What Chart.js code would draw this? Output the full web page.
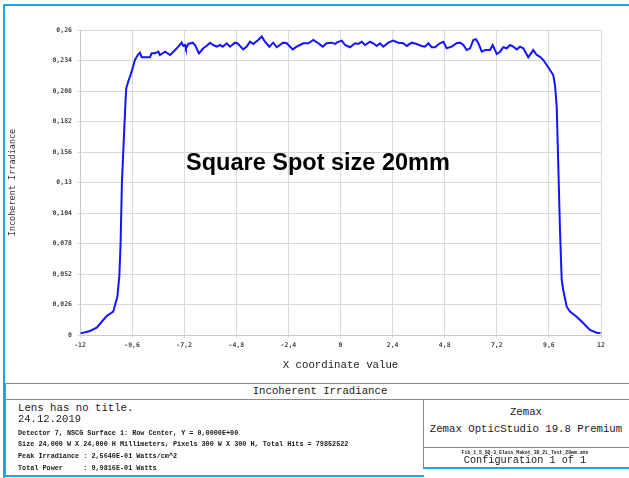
<!DOCTYPE html>
<html>
<head>
<meta charset="utf-8">
<script src="https://cdn.jsdelivr.net/npm/chart.js@4.4.1/dist/chart.umd.min.js"></script>
<style>
  html, body { margin: 0; padding: 0; background: #fff; }
  body { width: 629px; height: 478px; position: relative; overflow: hidden; }
  #myChart { position: absolute; left: 0; top: 0; }
  .ln { position: absolute; background: #8a8a8a; }
  .blue { position: absolute; background: #1ea4e4; }
  .t { position: absolute; font-family: "Liberation Mono", "DejaVu Sans Mono", monospace; color: #1a1a1a; white-space: pre; line-height: 1; }
  .c { transform: translate(-50%, -50%); }
  .l { transform: translateY(-50%); }
  #note { position: absolute; left: 318px; top: 162px; transform: translate(-50%, -50%);
          font: bold 23.5px "Liberation Sans", Arial, sans-serif; color: #000; white-space: nowrap; }
</style>
</head>
<body>
<canvas id="myChart" width="629" height="380"></canvas>
<div id="note">Square Spot size 20mm</div>

<!-- frame -->
<div class="blue" style="left:3px;top:4px;width:626px;height:2px"></div>
<div class="blue" style="left:3px;top:4px;width:2px;height:474px"></div>
<div class="blue" style="left:3px;top:475px;width:421px;height:2px"></div>
<div class="blue" style="left:423px;top:467px;width:206px;height:2px"></div>

<!-- info panel -->
<div class="ln" style="left:5px;top:383px;width:624px;height:1px"></div>
<div class="ln" style="left:5px;top:399px;width:624px;height:1px"></div>
<div class="ln" style="left:5px;top:383px;width:1px;height:93px"></div>
<div class="ln" style="left:423px;top:399px;width:1px;height:68px"></div>
<div class="ln" style="left:423px;top:447px;width:206px;height:1px"></div>

<div class="t c" style="left:320px;top:391px;font-size:10.7px">Incoherent Irradiance</div>
<div class="t l" style="left:18px;top:408px;font-size:10.7px">Lens has no title.</div>
<div class="t l" style="left:18px;top:419px;font-size:10.5px">24.12.2019</div>
<div class="t l" style="left:18px;top:433px;font-size:6.8px;font-weight:bold">Detector 7, NSCG Surface 1: Row Center, Y = 0,0000E+00</div>
<div class="t l" style="left:18px;top:444px;font-size:6.8px;font-weight:bold">Size 24,000 W X 24,000 H Millimeters, Pixels 300 W X 300 H, Total Hits = 79852522</div>
<div class="t l" style="left:18px;top:456px;font-size:6.8px;font-weight:bold">Peak Irradiance : 2,5640E-01 Watts/cm^2</div>
<div class="t l" style="left:18px;top:468px;font-size:6.8px;font-weight:bold">Total Power     : 9,9816E-01 Watts</div>
<div class="t c" style="left:526px;top:412px;font-size:10.7px">Zemax</div>
<div class="t c" style="left:526px;top:429px;font-size:10.7px">Zemax OpticStudio 19.8 Premium</div>
<div class="t c" style="left:525px;top:453px;font-size:4.8px;font-weight:bold">Fib_1_5_SQ-3_Glass_Maket_3D_2L_Test_20mm.zmx</div>
<div class="t c" style="left:525px;top:461px;font-size:10.2px">Configuration 1 of 1</div>

<script>
// detector row, X coordinate (mm)
const xPos = [-11.97, -11.54, -11.23, -11.00, -10.77, -10.47, -10.28, -10.19, -10.13, -10.07,
  -9.97, -9.90, -9.87, -9.78, -9.62, -9.47, -9.34, -9.24, -9.16, -8.78,
  -8.70, -8.55, -8.39, -8.32, -8.08, -7.85, -7.70, -7.62, -7.47, -7.32,
  -7.24, -7.16, -7.12, -7.01, -6.81, -6.70, -6.52, -6.32, -6.16, -6.01,
  -5.86, -5.70, -5.55, -5.43, -5.24, -5.09, -4.86, -4.75, -4.48, -4.32,
  -4.17, -4.02, -3.79, -3.63, -3.48, -3.28, -3.10, -2.94, -2.64, -2.48,
  -2.20, -2.02, -1.87, -1.71, -1.48, -1.25, -1.02, -0.82, -0.64, -0.41,
  -0.25, -0.18, 0.06, 0.21, 0.44, 0.67, 0.82, 0.98, 1.13, 1.36,
  1.51, 1.67, 1.82, 1.97, 2.20, 2.43, 2.66, 2.89, 3.05, 3.28,
  3.51, 3.74, 3.89, 4.05, 4.20, 4.35, 4.58, 4.74, 4.89, 5.12,
  5.35, 5.51, 5.66, 5.81, 5.97, 6.12, 6.24, 6.35, 6.51, 6.66,
  6.89, 7.01, 7.20, 7.35, 7.50, 7.66, 7.81, 7.96, 8.12, 8.27,
  8.42, 8.65, 8.88, 9.04, 9.19, 9.34, 9.50, 9.65, 9.80, 9.88,
  9.96, 10.03, 10.11, 10.19, 10.26, 10.42, 10.57, 10.88, 11.19, 11.49,
  11.80, 11.98];

// incoherent irradiance (W/cm^2)
const irradiance = [0.0014, 0.0034, 0.0062, 0.0113, 0.0162, 0.0199, 0.0326, 0.0497, 0.0782, 0.1293,
  0.1719, 0.2003, 0.2103, 0.2159, 0.2245, 0.2344, 0.2387, 0.2407, 0.2367, 0.2367,
  0.2401, 0.2401, 0.2415, 0.2387, 0.2415, 0.2387, 0.2415, 0.2429, 0.2458, 0.2492,
  0.2464, 0.2472, 0.2444, 0.2481, 0.2492, 0.2472, 0.2401, 0.2444, 0.2466, 0.2492,
  0.2472, 0.2458, 0.2472, 0.2458, 0.2487, 0.2458, 0.2492, 0.2487, 0.2435, 0.2458,
  0.2500, 0.2481, 0.2515, 0.2545, 0.2500, 0.2458, 0.2492, 0.2453, 0.2492, 0.2487,
  0.2435, 0.2458, 0.2472, 0.2487, 0.2487, 0.2515, 0.2487, 0.2458, 0.2487, 0.2492,
  0.2481, 0.2492, 0.2509, 0.2472, 0.2453, 0.2487, 0.2481, 0.2500, 0.2472, 0.2500,
  0.2487, 0.2464, 0.2487, 0.2458, 0.2492, 0.2509, 0.2492, 0.2487, 0.2464, 0.2492,
  0.2481, 0.2464, 0.2458, 0.2487, 0.2453, 0.2453, 0.2487, 0.2500, 0.2444, 0.2458,
  0.2487, 0.2492, 0.2472, 0.2429, 0.2444, 0.2515, 0.2521, 0.2487, 0.2415, 0.2429,
  0.2429, 0.2472, 0.2395, 0.2415, 0.2453, 0.2444, 0.2472, 0.2458, 0.2435, 0.2458,
  0.2444, 0.2367, 0.2429, 0.2387, 0.2372, 0.2344, 0.2302, 0.2259, 0.2216, 0.2131,
  0.1946, 0.1464, 0.0895, 0.0469, 0.0384, 0.0241, 0.0199, 0.0156, 0.0100, 0.0043,
  0.0020, 0.0017];

const xTicks = [-12, -9.6, -7.2, -4.8, -2.4, 0, 2.4, 4.8, 7.2, 9.6, 12];
const yTicks = [0, 0.026, 0.052, 0.078, 0.104, 0.13, 0.156, 0.182, 0.208, 0.234, 0.26];

const points = xPos.map((x, i) => ({ x: x, y: irradiance[i] }));
const commaFmt = v => String(v).replace('.', ',');
const tickFont = { family: "'DejaVu Sans Mono', monospace", size: 6.5, weight: 'bold' };

const config = {
  type: 'line',
  data: {
    datasets: [{
      data: points,
      borderColor: '#1414ff',
      borderWidth: 2,
      pointRadius: 0,
      tension: 0,
      fill: false
    }]
  },
  options: {
    responsive: false,
    animation: false,
    layout: { padding: { left: 0, top: 30, right: 28, bottom: 0 } },
    plugins: { legend: { display: false }, tooltip: { enabled: false } },
    scales: {
      x: {
        type: 'linear',
        min: -12,
        max: 12,
        afterBuildTicks: s => { s.ticks = xTicks.map(v => ({ value: v })); },
        afterFit: s => { s.height = 45; },
        ticks: { callback: commaFmt, font: tickFont, color: '#444', padding: 3, maxRotation: 0 },
        grid: { color: '#d9d9d9', tickLength: 3 },
        border: { color: '#c8c8c8' },
        title: {
          display: true,
          text: 'X coordinate value',
          font: { family: "'Liberation Mono', monospace", size: 10.7 },
          color: '#222',
          padding: { top: 0, bottom: 8 }
        }
      },
      y: {
        min: 0,
        max: 0.26,
        afterBuildTicks: s => { s.ticks = yTicks.map(v => ({ value: v })); },
        afterFit: s => { s.width = 80; },
        ticks: { callback: commaFmt, font: tickFont, color: '#444', padding: 5 },
        grid: { color: '#d9d9d9', tickLength: 3 },
        border: { color: '#c8c8c8' },
        title: {
          display: true,
          text: 'Incoherent Irradiance',
          font: { family: "'DejaVu Sans Mono', monospace", size: 8.5 },
          color: '#333',
          padding: { top: 8, bottom: 0 }
        }
      }
    }
  }
};

var myChart = new Chart(document.getElementById('myChart'), config);
</script>
</body>
</html>
